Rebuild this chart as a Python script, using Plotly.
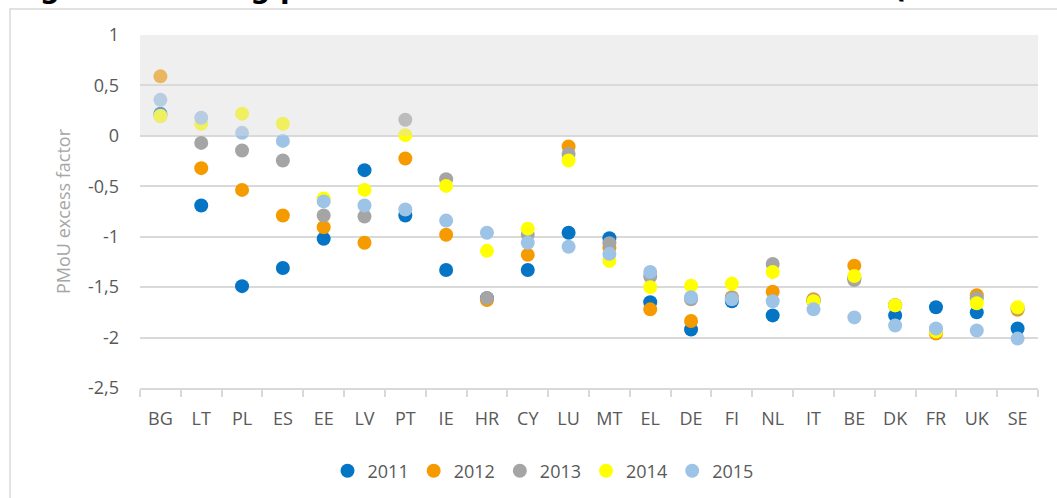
import plotly.graph_objects as go

countries = ["BG", "LT", "PL", "ES", "EE", "LV", "PT", "IE", "HR", "CY", "LU",
             "MT", "EL", "DE", "FI", "NL", "IT", "BE", "DK", "FR", "UK", "SE"]

v2011 = [0.22, -0.69, -1.49, -1.31, -1.02, -0.34, -0.79, -1.33, -1.61, -1.33, -0.96,
         -1.015, -1.65, -1.92, -1.64, -1.78, -1.64, -1.41, -1.78, -1.70, -1.75, -1.91]
v2012 = [0.59, -0.32, -0.536, -0.79, -0.906, -1.06, -0.225, -0.98, -1.627, -1.18, -0.106,
         -1.11, -1.72, -1.835, -1.60, -1.545, -1.62, -1.287, -1.68, -1.96, -1.58, -1.725]
v2013 = [0.20, -0.07, -0.145, -0.245, -0.79, -0.80, 0.16, -0.43, -1.607, -0.98, -0.18,
         -1.065, -1.395, -1.62, -1.61, -1.27, -1.63, -1.43, -1.68, -1.92, -1.61, -1.71]
v2014 = [0.198, 0.12, 0.22, 0.12, -0.62, -0.536, 0.007, -0.496, -1.14, -0.92, -0.245,
         -1.24, -1.50, -1.485, -1.465, -1.35, -1.64, -1.39, -1.68, -1.94, -1.66, -1.70]
v2015 = [0.357, 0.18, 0.03, -0.05, -0.65, -0.69, -0.73, -0.84, -0.96, -1.06, -1.10,
         -1.17, -1.35, -1.60, -1.62, -1.64, -1.72, -1.80, -1.88, -1.91, -1.93, -2.01]

y_tickvals = [1, 0.5, 0, -0.5, -1, -1.5, -2, -2.5]
y_ticktext = ["1", "0,5", "0", "-0,5", "-1", "-1,5", "-2", "-2,5"]

series = [("2011", v2011, "#0474C4"),
          ("2012", v2012, "#F59B00"),
          ("2013", v2013, "#A5A5A5"),
          ("2014", v2014, "#FFFF00"),
          ("2015", v2015, "#9DC3E6")]

title_text = "Figure 5.6 : Flag performance in terms of excess factor (lower is better)"
y_title = "PMoU excess factor"

FONT = "Open Sans"
fig = go.Figure()
for name, vals, col in series:
    fig.add_trace(go.Scatter(x=countries, y=vals, mode="markers", name=name,
                             marker=dict(color=col, size=14, line=dict(width=0))))

W, H = 1057, 498
L, R, T, B = 140, 19, 35, 110
pw, ph = W - L - R, H - T - B

def px(x):
    return (x - L) / pw

def py(y):
    return (H - B - y) / ph

# shaded band 0..1 (drawn above markers, translucent)
fig.add_shape(type="rect", xref="paper", yref="y", x0=0, x1=1, y0=0, y1=1,
              fillcolor="rgba(218,218,218,0.44)", line=dict(width=0), layer="above")
# outer chart border
fig.add_shape(type="rect", xref="paper", yref="paper", x0=px(10), x1=px(1075),
              y0=py(520), y1=py(9), line=dict(color="#d9d9d9", width=1.5),
              fillcolor="rgba(0,0,0,0)", layer="below")

fig.add_annotation(text="<b>" + title_text + "</b>", xref="paper", yref="paper",
                   x=px(9), y=py(7.5), xanchor="left", yanchor="bottom", showarrow=False,
                   font=dict(family="DejaVu Sans", size=28, color="#000000"))

fig.update_layout(
    width=W, height=H,
    margin=dict(l=L, r=R, t=T, b=B, autoexpand=False),
    paper_bgcolor="white", plot_bgcolor="white",
    font=dict(family=FONT, size=18, color="#595959"),
    showlegend=True,
    legend=dict(orientation="h", x=px(543), xanchor="center", y=py(471), yanchor="middle",
                font=dict(family=FONT, size=18, color="#595959"), itemclick=False),
    xaxis=dict(type="category", range=[-0.5, len(countries) - 0.5], showgrid=False,
               automargin=False,
               showline=True, linecolor="#d9d9d9", linewidth=1.5,
               ticks="outside", tickson="boundaries", ticklen=7, tickcolor="#d9d9d9",
               tickwidth=1.5, ticklabelstandoff=14,
               tickfont=dict(family=FONT, size=18, color="#595959")),
    yaxis=dict(range=[-2.5, 1], tickmode="array", tickvals=y_tickvals, ticktext=y_ticktext,
               showgrid=True, gridcolor="#d9d9d9", automargin=False,
               gridwidth=1.5, zeroline=False, showline=False, ticks="",
               ticklabelstandoff=20,
               tickfont=dict(family=FONT, size=18, color="#595959"),
               title=dict(text=y_title, standoff=12,
                          font=dict(family=FONT, size=18, color="#A6A6A6"))),
)

fig.write_html("out.html", config={"displayModeBar": False},
               post_script="document.body.style.margin='0';document.body.style.overflow='hidden';")
